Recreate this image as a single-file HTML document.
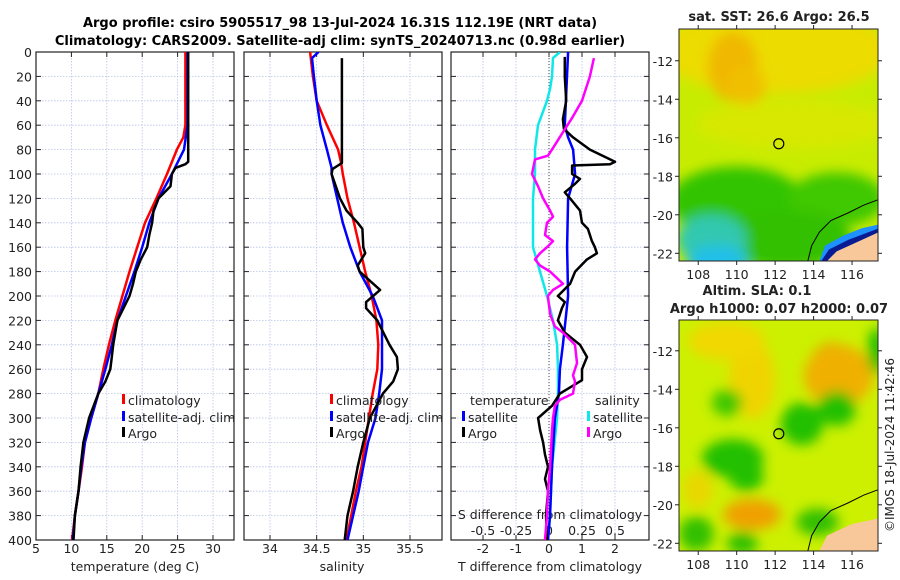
<!DOCTYPE html>
<html><head><meta charset="utf-8">
<style>
html,body{margin:0;padding:0;background:#fff;}
svg{display:block;font-family:"DejaVu Sans","Liberation Sans",sans-serif;}
</style></head>
<body>
<svg id="chart" width="900" height="580" viewBox="0 0 900 580" xmlns="http://www.w3.org/2000/svg">
<defs>
<filter id="blur6" x="-50%" y="-50%" width="200%" height="200%"><feGaussianBlur stdDeviation="6"/></filter>
<clipPath id="clipM1"><rect x="679" y="29" width="199" height="232"/></clipPath>
<clipPath id="clipM2"><rect x="679" y="320" width="199" height="231"/></clipPath>
<clipPath id="clipP1"><rect x="36" y="52" width="198" height="488"/></clipPath>
<clipPath id="clipP2"><rect x="244" y="52" width="198" height="488"/></clipPath>
<clipPath id="clipP3"><rect x="451" y="52" width="198" height="488"/></clipPath>
</defs>
<g font-weight="bold" font-size="13" text-anchor="middle">
<text x="340" y="27">Argo profile: csiro 5905517_98 13-Jul-2024 16.31S 112.19E (NRT data)</text>
<text x="340" y="45">Climatology: CARS2009. Satellite-adj clim: synTS_20240713.nc (0.98d earlier)</text>
</g>
<g id="panels"></g>
<g id="maps"></g>
<text transform="translate(894,445) rotate(-90)" text-anchor="middle" font-size="12" fill="#222">©IMOS 18-Jul-2024 11:42:46</text>
</svg>
<script>
// ---------- data ----------
const depthTicks = [0,20,40,60,80,100,120,140,160,180,200,220,240,260,280,300,320,340,360,380,400];
const tempTicks = [5,10,15,20,25,30];
const salTicks = [34,34.5,35,35.5];
const salTickLabels = ['34','34.5','35','35.5'];
const dTTicks = [-2,-1,0,1,2];
const dSTickLabels = ['-0.5','-0.25','0','0.25','0.5'];
const dSTicks = [-0.5,-0.25,0,0.25,0.5];

const climDepth = [0,60,70,80,100,120,140,160,180,200,220,240,260,280,300,320,340,360,380,400];
const climTemp  = [26.1,26.1,25.8,24.9,23.5,22.0,20.4,19.3,18.2,17.2,16.2,15.3,14.5,13.8,12.8,11.9,11.5,11.0,10.5,10.1];
const satDepth = [0,60,80,100,120,140,160,180,200,220,240,260,280,300,320,340,360,380,400];
const satTemp  = [26.4,26.4,25.9,24.2,22.3,21.0,20.0,18.9,17.7,16.5,15.7,14.8,13.8,12.8,11.9,11.4,11.0,10.5,10.2];
const argoDepth = [0,90,92,95,100,110,120,130,140,150,160,170,180,190,200,220,240,250,260,270,280,300,320,340,360,380,400];
const argoTemp  = [26.5,26.5,26.1,24.7,24.2,24.0,22.3,21.6,21.4,21.0,20.7,19.8,19.1,18.7,18.2,16.5,15.9,15.7,15.5,14.8,13.8,12.5,11.7,11.3,11.0,10.5,10.3];

const climSDepth = [0,20,40,60,80,90,100,120,140,160,180,200,220,240,260,280,300,320,340,360,380,400];
const climSal = [34.43,34.46,34.50,34.61,34.73,34.76,34.78,34.83,34.90,34.96,35.02,35.09,35.14,35.16,35.15,35.10,35.06,35.02,34.98,34.92,34.87,34.82];
const satSDepth = [0,5,20,40,60,80,95,100,120,140,160,180,200,220,240,260,280,300,320,340,360,380,400];
const satSal = [34.52,34.45,34.47,34.50,34.54,34.61,34.66,34.66,34.72,34.78,34.86,34.96,35.10,35.20,35.20,35.20,35.17,35.13,35.05,35.00,34.95,34.89,34.83];
const argoSDepth = [5,91,96,100,120,130,140,145,160,165,175,180,195,205,210,220,240,250,260,270,280,290,300,320,340,360,380,400];
const argoSal = [34.77,34.77,34.67,34.66,34.75,34.82,34.94,34.99,35.00,35.02,34.94,34.96,35.18,35.03,35.03,35.15,35.28,35.36,35.37,35.32,35.21,35.14,35.07,35.00,34.94,34.89,34.83,34.80];

const dArgoTDepth = [4,20,40,55,63,70,80,90,92,93,100,104,108,115,120,130,140,145,155,160,165,170,180,190,200,205,210,220,230,240,250,260,269,280,290,300,310,320,330,340,350,360,370,380,400];
const dArgoT = [0.48,0.48,0.52,0.42,0.45,0.73,1.24,2.0,1.85,0.7,0.7,0.94,0.79,0.48,0.64,0.94,1.0,1.18,1.3,1.39,1.45,1.15,0.79,0.64,0.27,0.48,0.39,0.27,0.48,0.94,1.15,1.0,1.0,0.33,0.09,-0.33,-0.27,-0.18,-0.12,-0.03,-0.12,-0.03,-0.06,-0.09,-0.06];
const dSatTDepth = [0,60,70,80,100,120,160,200,240,260,280,300,340,380,400];
const dSatT = [0.58,0.48,0.58,0.73,0.79,0.58,0.55,0.58,0.42,0.33,0.30,0.18,0.09,0.03,-0.03];
const dSatSDepth = [0,5,20,30,40,60,80,100,120,140,160,180,200,220,240,260,280,300,340,380,400];
const dSatS = [0.083,0.03,0.023,0.008,-0.015,-0.083,-0.106,-0.106,-0.121,-0.121,-0.121,-0.068,-0.015,0.030,0.061,0.068,0.068,0.061,0.023,0.008,-0.008];
const dArgoSDepth = [5,20,40,55,65,80,85,88,100,110,120,130,135,140,150,155,160,165,170,175,180,190,195,200,215,225,230,240,255,265,270,280,285,290,300,310,340,360,380,400];
const dArgoS = [0.34,0.31,0.25,0.17,0.11,0.023,-0.008,-0.106,-0.129,-0.083,-0.045,0.008,0.03,-0.015,-0.03,0.03,-0.015,-0.068,-0.106,-0.068,0.008,0.106,0.03,-0.008,0.008,0.045,0.106,0.197,0.212,0.182,0.197,0.182,0.083,0.045,0.03,0.023,0.008,-0.008,-0.015,-0.03];

// ---------- helpers ----------
const NS='http://www.w3.org/2000/svg';
const svg=document.getElementById('chart');
const panels=document.getElementById('panels');
const maps=document.getElementById('maps');
function mk(tag,attrs,parent){const e=document.createElementNS(NS,tag);for(const k in attrs)e.setAttribute(k,attrs[k]);(parent||svg).appendChild(e);return e;}
const Y0=52,Y1=540;
function yD(d){return Y0+(d/400)*(Y1-Y0);}
function xT(t){return 36+(t-5)*(213-36)/25;}
function xS(s){return 270+(s-34)*(410-270)/1.5;}
function xDT(t){return 549+t*33;}
function xDS(s){return 549+s*132;}

function frame(x0,x1,name,gridX,leftLabels){
  const g=mk('g',{},panels);
  
  
  depthTicks.forEach(d=>{
    const y=yD(d);
    if(d>0&&d<400){const l=mk('line',{x1:x0,x2:x1,y1:y,y2:y,stroke:'#b8c4e8','stroke-width':0.8,'stroke-dasharray':'1.5,1.5'},g);
      }
    mk('line',{x1:x0,x2:x0+5,y1:y,y2:y,stroke:'#222'},g);
    mk('line',{x1:x1-5,x2:x1,y1:y,y2:y,stroke:'#222'},g);
    if(leftLabels){const t=mk('text',{x:x0-4,y:y+5,'text-anchor':'end','font-size':12.5,fill:'#222'},g);t.textContent=d;
      }
  });
  gridX.forEach(x=>{
    const l=mk('line',{x1:x,x2:x,y1:Y0,y2:Y1,stroke:'#b8c4e8','stroke-width':0.8,'stroke-dasharray':'1.5,1.5'},g);
    
    mk('line',{x1:x,x2:x,y1:Y1,y2:Y1-5,stroke:'#222'},g);
    mk('line',{x1:x,x2:x,y1:Y0,y2:Y0+5,stroke:'#222'},g);
  });
  mk('rect',{x:x0,y:Y0,width:x1-x0,height:Y1-Y0,fill:'none',stroke:'#222','stroke-width':1.2},g);
  return g;
}
function line(depths,vals,fx,color,w,clip,name,parent){
  let d='';
  depths.forEach((dp,i)=>{d+=(i?'L':'M')+fx(vals[i]).toFixed(1)+','+yD(dp).toFixed(1);});
  const p=mk('path',{d:d,fill:'none',stroke:color,'stroke-width':w,'stroke-linejoin':'round','clip-path':'url(#'+clip+')'},parent);
  
  
  return p;
}
function txt(x,y,s,size,parent,name,anchor){
  const t=mk('text',{x:x,y:y,'font-size':size||12.5,fill:'#222','text-anchor':anchor||'start'},parent);
  t.textContent=s;
  
  
  return t;
}
function legEntry(x,y,color,label,parent,name){
  const g=mk('g',{},parent);
  
  
  mk('rect',{x:x,y:y-11,width:3,height:10,fill:color},g);
  const t=mk('text',{x:x+6,y:y,'font-size':12.5,fill:'#222'},g);t.textContent=label;
}

// ---------- panel 1: temperature ----------
const g1=frame(36,234,'temperature-panel',tempTicks.map(xT),true);
tempTicks.forEach(t=>txt(xT(t),553,String(t),12.5,g1,'x-tick-label','middle'));
txt(135,571,'temperature (deg C)',12.5,g1,'x-axis-title','middle');
line(climDepth,climTemp,xT,'#f00',2.5,'clipP1','climatology-temp-line',g1);
line(satDepth,satTemp,xT,'#00f',2.5,'clipP1','satellite-temp-line',g1);
line(argoDepth,argoTemp,xT,'#000',2.5,'clipP1','argo-temp-line',g1);
legEntry(122,405,'#f00','climatology',g1,'legend-climatology');
legEntry(122,422,'#00f','satellite-adj. clim',g1,'legend-satellite');
legEntry(122,438,'#000','Argo',g1,'legend-argo');

// ---------- panel 2: salinity ----------
const g2=frame(244,442,'salinity-panel',salTicks.map(xS),false);
salTicks.forEach((s,i)=>txt(xS(s),553,salTickLabels[i],12.5,g2,'x-tick-label','middle'));
txt(342,571,'salinity',12.5,g2,'x-axis-title','middle');
line(climSDepth,climSal,xS,'#f00',2.5,'clipP2','climatology-salinity-line',g2);
line(satSDepth,satSal,xS,'#00f',2.5,'clipP2','satellite-salinity-line',g2);
line(argoSDepth,argoSal,xS,'#000',2.5,'clipP2','argo-salinity-line',g2);
legEntry(330,405,'#f00','climatology',g2,'legend-climatology');
legEntry(330,422,'#00f','satellite-adj. clim',g2,'legend-satellite');
legEntry(330,438,'#000','Argo',g2,'legend-argo');

// ---------- panel 3: differences ----------
const g3=frame(451,649,'difference-panel',dTTicks.map(xDT),false);
const zl=mk('line',{x1:xDT(0),x2:xDT(0),y1:Y0,y2:Y1,stroke:'#444','stroke-width':1,'stroke-dasharray':'1,2'},g3);

dTTicks.forEach(t=>txt(xDT(t),553,String(t),12.5,g3,'x-tick-label','middle'));
txt(550,571,'T difference from climatology',12.5,g3,'x-axis-title','middle');
txt(550,519,'S difference from climatology',12.5,g3,'s-axis-title','middle');
dSTicks.forEach((s,i)=>txt(xDS(s),535,dSTickLabels[i],12.5,g3,'s-tick-label','middle'));
line(dSatSDepth,dSatS,xDS,'#0ee8e8',2.5,'clipP3','satellite-salinity-diff-line',g3);
line(dSatTDepth,dSatT,xDT,'#00f',2.5,'clipP3','satellite-temp-diff-line',g3);
line(dArgoTDepth,dArgoT,xDT,'#000',2.5,'clipP3','argo-temp-diff-line',g3);
line(dArgoSDepth,dArgoS,xDS,'#f0f',2.5,'clipP3','argo-salinity-diff-line',g3);
txt(470,405,'temperature',12.5,g3,'legend-title-temperature');
txt(595,405,'salinity',12.5,g3,'legend-title-salinity');
legEntry(462,422,'#00f','satellite',g3,'legend-temp-satellite');
legEntry(462,438,'#000','Argo',g3,'legend-temp-argo');
legEntry(587,422,'#0ee8e8','satellite',g3,'legend-sal-satellite');
legEntry(587,438,'#f0f','Argo',g3,'legend-sal-argo');

// ---------- maps ----------
const lonTicks=[108,110,112,114,116];
const latTicks=[-12,-14,-16,-18,-20,-22];
function mapFrame(y0,y1,latTop,latBot,name,clip,blobs,base,land){
  const g=mk('g',{},maps);
  
  
  const x0=679,x1=878;
  const lx=lon=>x0+(lon-107)*(x1-x0)/(117.35-107);
  const ly=lat=>y0+(latTop-lat)*(y1-y0)/(latTop-latBot);
  const cg=mk('g',{'clip-path':'url(#'+clip+')'},g);
  mk('rect',{x:x0,y:y0,width:x1-x0,height:y1-y0,fill:base},cg);
  const bg=mk('g',{filter:'url(#blur6)'},cg);
  blobs.forEach(b=>mk('ellipse',{cx:lx(b[0]),cy:ly(b[1]),rx:b[2]*19.3,ry:b[3]*19.3,fill:b[4]},bg));
  land(cg,lx,ly);
  const c=mk('circle',{cx:lx(112.19),cy:ly(-16.31),r:5,fill:'none',stroke:'#000','stroke-width':1.2},g);
  
  mk('rect',{x:x0,y:y0,width:x1-x0,height:y1-y0,fill:'none',stroke:'#222','stroke-width':1},g);
  latTicks.forEach(l=>{const y=ly(l);
    mk('line',{x1:x0-4,x2:x0,y1:y,y2:y,stroke:'#222'},g);mk('line',{x1:x1,x2:x1+4,y1:y,y2:y,stroke:'#222'},g);
    txt(x0-6,y+5,String(l),12.5,g,'lat-tick-label','end');});
  lonTicks.forEach(l=>{const x=lx(l);
    mk('line',{x1:x,x2:x,y1:y1,y2:y1+4,stroke:'#222'},g);mk('line',{x1:x,x2:x,y1:y0-4,y2:y0,stroke:'#222'},g);
    txt(x,y1+18,String(l),12.5,g,'lon-tick-label','middle');});
  return g;
}
function coast(lg,lx,ly){
  mk('path',{d:`M${lx(113.7)},${ly(-22.4)} L${lx(113.9)},${ly(-21.6)} L${lx(114.3)},${ly(-20.9)} L${lx(114.9)},${ly(-20.3)} L${lx(115.8)},${ly(-19.9)} L${lx(116.6)},${ly(-19.5)} L${lx(117.4)},${ly(-19.2)}`,fill:'none',stroke:'#000','stroke-width':1},lg);
}
function land1(cg,lx,ly){
  const lg=mk('g',{},cg);
  mk('path',{d:`M${lx(114.3)},${ly(-22.4)} L${lx(114.6)},${ly(-21.6)} L${lx(115.5)},${ly(-21.1)} L${lx(116.5)},${ly(-20.7)} L${lx(117.4)},${ly(-20.5)} L${lx(117.4)},${ly(-22.5)} Z`,fill:'#1e90ff'},lg);
  mk('path',{d:`M${lx(114.4)},${ly(-22.4)} L${lx(114.8)},${ly(-21.8)} L${lx(115.8)},${ly(-21.3)} L${lx(117.4)},${ly(-20.7)} L${lx(117.4)},${ly(-22.5)} Z`,fill:'#0a1a90'},lg);
  mk('path',{d:`M${lx(114.7)},${ly(-22.4)} L${lx(115.2)},${ly(-21.9)} L${lx(116.3)},${ly(-21.4)} L${lx(117.4)},${ly(-20.9)} L${lx(117.4)},${ly(-22.5)} Z`,fill:'#f8c89a'},lg);
  coast(lg,lx,ly);
}
function land2(cg,lx,ly){
  const lg=mk('g',{},cg);
  mk('path',{d:`M${lx(114.3)},${ly(-22.4)} L${lx(114.7)},${ly(-21.6)} L${lx(116)},${ly(-21.0)} L${lx(117.4)},${ly(-20.7)} L${lx(117.4)},${ly(-22.5)} Z`,fill:'#f8c89a'},lg);
  coast(lg,lx,ly);
}
const sstBlobs=[
 [112,-11.5,6,2.2,'#ecdc00'],[109.8,-12.3,1.3,1.8,'#f0b800'],[110.5,-13.3,1,1,'#f0c000'],
 [113,-15.3,5,1.2,'#d8e800'],
 [110,-19.3,3.5,1.8,'#30c400'],[115.2,-19.2,2.5,1.4,'#40c800'],[112.5,-21.3,3.5,1.5,'#30c000'],
 [108.7,-21.3,1.8,1.3,'#30c8b0'],[109,-22.4,1.6,0.8,'#20c0e8']];
const slaBlobs=[
 [115,-12.8,1.2,1.2,'#e89010'],[115.3,-13.3,1.8,1.6,'#f0b000'],[110.8,-13.5,1.2,2,'#f0d400'],[109.5,-11.5,2,1,'#f0d800'],
 [110.8,-20.5,1.5,0.8,'#f0a000'],[108,-19.2,0.8,1,'#e8d800'],
 [109.8,-17.6,1.6,1,'#20c000'],[110.5,-18.5,0.9,0.8,'#20c000'],[113.4,-15.8,1.1,1.1,'#20c000'],[115.2,-15,1,0.9,'#20c000'],
 [109.5,-14.7,0.8,0.7,'#40c800'],[107.9,-21.5,0.9,0.9,'#30c000'],[110.3,-22,0.8,0.6,'#30c000'],[114.2,-20.9,1.1,0.7,'#30c000'],[117.3,-12,0.5,1.2,'#20c000']];
mapFrame(29,261,-10.35,-22.4,'sst-map','clipM1',sstBlobs,'#c8ec00',land1);
mapFrame(320,551,-10.4,-22.4,'sla-map','clipM2',slaBlobs,'#ccf000',land2);
const mt=mk('g',{'font-weight':'bold','font-size':13,'text-anchor':'middle'},maps);


txt(779,21,'sat. SST: 26.6 Argo: 26.5',13,mt,'sst-map-title','middle');
txt(757,295,'Altim. SLA: 0.1',13,mt,'sla-map-title','middle');
txt(779,313,'Argo h1000: 0.07 h2000: 0.07',13,mt,'sla-map-subtitle','middle');
</script>
</body></html>
